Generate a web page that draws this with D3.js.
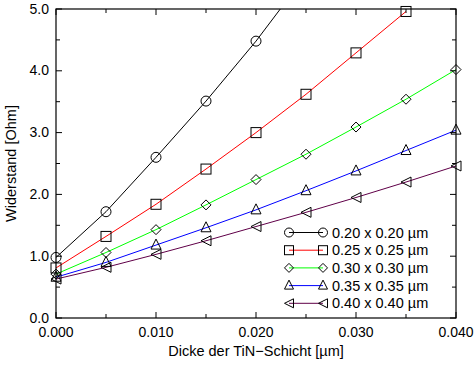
<!DOCTYPE html>
<html><head><meta charset="utf-8">
<script src="https://cdn.jsdelivr.net/npm/d3@7"></script>
<style>body{margin:0;background:#fff}svg{display:block}text{font-family:"Liberation Sans",Arial,sans-serif}</style>
</head><body><svg id="c" width="475" height="366"></svg>
<script>
const xs = [0, 0.005, 0.010, 0.015, 0.020, 0.025, 0.030, 0.035, 0.040];
const s020 = [0.98, 1.72, 2.60, 3.51, 4.48, 5.55];
const s025 = [0.81, 1.32, 1.84, 2.41, 3.00, 3.62, 4.29, 4.96];
const s030 = [0.71, 1.06, 1.43, 1.83, 2.24, 2.65, 3.09, 3.54, 4.02];
const s035 = [0.66, 0.90, 1.18, 1.46, 1.75, 2.06, 2.38, 2.71, 3.04];
const s040 = [0.63, 0.82, 1.03, 1.25, 1.48, 1.71, 1.95, 2.20, 2.46];
const labels = ["0.20 x 0.20 µm","0.25 x 0.25 µm","0.30 x 0.30 µm","0.35 x 0.35 µm","0.40 x 0.40 µm"];
const colors = ["#000000","#ff0000","#00ff00","#0000ff","#600048"];
const shapes = ["circle","square","diamond","triangle","left"];
const xTicks = [0, 0.010, 0.020, 0.030, 0.040];
const yTicks = [0, 1, 2, 3, 4, 5];

const series = [s020, s025, s030, s035, s040];
const svg = d3.select("#c");
const L=56, R=456, T=9, B=318;
const x = d3.scaleLinear().domain([0,0.04]).range([L,R]);
const y = d3.scaleLinear().domain([0,5]).range([B,T]);

svg.append("defs").append("clipPath").attr("id","cp").append("rect")
  .attr("x",L).attr("y",T).attr("width",R-L).attr("height",B-T);

function marker(g, shape, cx, cy, s){
  let e;
  const h = s/2;
  if(shape==="circle") e = g.append("circle").attr("cx",cx).attr("cy",cy).attr("r",h);
  else if(shape==="square") e = g.append("rect").attr("x",cx-h).attr("y",cy-h).attr("width",s).attr("height",s);
  else if(shape==="diamond") e = g.append("path").attr("d",`M${cx},${cy-h}L${cx+h},${cy}L${cx},${cy+h}L${cx-h},${cy}Z`);
  else if(shape==="triangle") e = g.append("path").attr("d",`M${cx},${cy-h-1}L${cx+h},${cy+h-1}L${cx-h},${cy+h-1}Z`);
  else e = g.append("path").attr("d",`M${cx-h},${cy}L${cx+h},${cy-h}L${cx+h},${cy+h}Z`);
  e.attr("fill","none").attr("stroke","#000").attr("stroke-width",1);
}

const plot = svg.append("g").attr("clip-path","url(#cp)");
series.forEach((s,i)=>{
  const pts = s.map((v,j)=>[xs[j],v]);
  plot.append("path").datum(pts)
    .attr("d", d3.line().x(d=>x(d[0])).y(d=>y(d[1])))
    .attr("fill","none").attr("stroke",colors[i]).attr("stroke-width",1);
});

// frame
svg.append("rect").attr("x",L).attr("y",T).attr("width",R-L).attr("height",B-T)
  .attr("fill","none").attr("stroke","#000").attr("stroke-width",1.2);

// markers (not clipped, only those inside the value range)
const mk = svg.append("g");
series.forEach((s,i)=>{
  s.forEach((v,j)=>{ if(v<=y.domain()[1]) marker(mk, shapes[i], x(xs[j]), y(v), 10); });
});

// ticks
const xMinor = d3.range(0,0.0401,0.005);
const yMinor = d3.range(0,5.01,0.5);
const tk = svg.append("g").attr("stroke","#000").attr("stroke-width",1);
xMinor.forEach((v,i)=>{
  const len = i%2===0?6:4;
  tk.append("line").attr("x1",x(v)).attr("x2",x(v)).attr("y1",B).attr("y2",B-len);
  tk.append("line").attr("x1",x(v)).attr("x2",x(v)).attr("y1",T).attr("y2",T+len);
});
yMinor.forEach((v,i)=>{
  const len = i%2===0?6:4;
  tk.append("line").attr("y1",y(v)).attr("y2",y(v)).attr("x1",L).attr("x2",L+len);
  tk.append("line").attr("y1",y(v)).attr("y2",y(v)).attr("x1",R).attr("x2",R-len);
});

svg.append("g").selectAll("text").data(xTicks).join("text")
  .attr("x",d=>x(d)).attr("y",B+19).attr("text-anchor","middle")
  .attr("font-size",14).text(d=>d3.format(".3f")(d));
svg.append("g").selectAll("text").data(yTicks).join("text")
  .attr("x",L-7).attr("y",d=>y(d)+4.5).attr("text-anchor","end")
  .attr("font-size",14).text(d=>d3.format(".1f")(d));

svg.append("text").attr("x",256).attr("y",356).attr("text-anchor","middle")
  .attr("font-size",14.5).text("Dicke der TiN\u2212Schicht [µm]");
svg.append("text").attr("transform",`translate(16,${(T+B)/2}) rotate(-90)`)
  .attr("text-anchor","middle").attr("font-size",14.5).text("Widerstand [Ohm]");

// legend
const lg = svg.append("g");
labels.forEach((lab,i)=>{
  const yy = 232.5 + i*17.7;
  lg.append("line").attr("x1",289).attr("x2",323).attr("y1",yy).attr("y2",yy)
    .attr("stroke",colors[i]).attr("stroke-width",1);
  marker(lg, shapes[i], 289, yy, 9);
  marker(lg, shapes[i], 323, yy, 9);
  lg.append("text").attr("x",332).attr("y",yy+5).attr("font-size",14.5).text(lab);
});
</script></body></html>
